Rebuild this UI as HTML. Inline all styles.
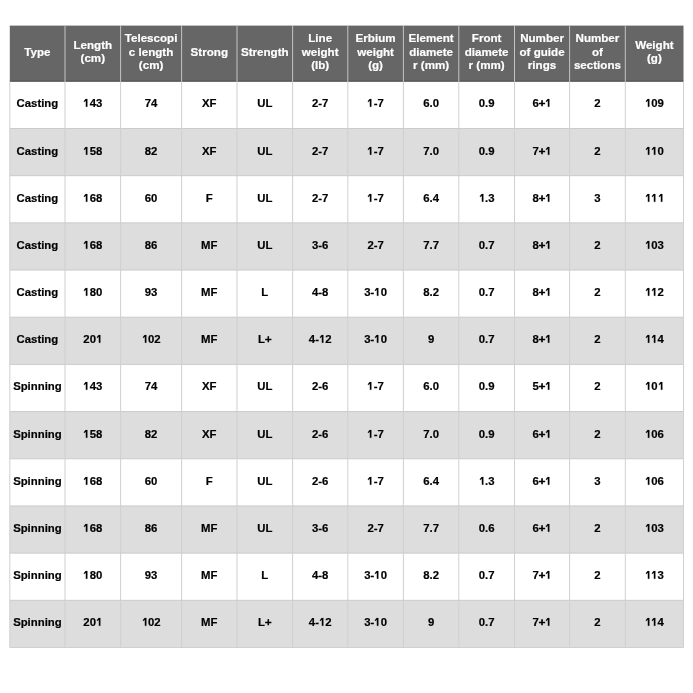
<!DOCTYPE html>
<html><head><meta charset="utf-8"><style>
html,body{margin:0;padding:0;background:#fff;width:693px;height:693px;overflow:hidden}
body{position:relative;font-family:"Liberation Sans",sans-serif;font-weight:bold}
#bg{position:absolute;left:0;top:0}
#wrap{position:absolute;left:0;top:0;width:693px;height:693px;will-change:transform}
.c{position:absolute;display:flex;align-items:center;justify-content:center;text-align:center;font-size:11.35px;line-height:14px;color:#000;-webkit-text-stroke:0.2px #000}
.h{position:absolute;display:flex;align-items:center;justify-content:center;text-align:center;font-size:11.6px;line-height:13.3px;color:#fff;-webkit-text-stroke:0.2px #fff}
.one{width:6.312px;height:7.809px;vertical-align:baseline;position:relative;top:0px;fill:#000;stroke:#000;stroke-width:30;overflow:visible}
.p{font-weight:normal;-webkit-text-stroke:0.7px #000}
</style></head><body>
<svg id="bg" width="693" height="693" viewBox="0 0 693 693">
<rect x="9.8" y="25.6" width="673.7" height="56.20" fill="#666666"/>
<rect x="9.8" y="80.40" width="673.7" height="1.1" fill="#595959"/>
<rect x="9.8" y="128.48" width="673.7" height="47.18" fill="#dddddd"/>
<rect x="9.8" y="222.85" width="673.7" height="47.18" fill="#dddddd"/>
<rect x="9.8" y="317.22" width="673.7" height="47.18" fill="#dddddd"/>
<rect x="9.8" y="411.58" width="673.7" height="47.18" fill="#dddddd"/>
<rect x="9.8" y="505.95" width="673.7" height="47.18" fill="#dddddd"/>
<rect x="9.8" y="600.32" width="673.7" height="47.18" fill="#dddddd"/>
<rect x="9.8" y="127.98" width="673.7" height="1" fill="#cbcbcb"/>
<rect x="9.8" y="175.17" width="673.7" height="1" fill="#cbcbcb"/>
<rect x="9.8" y="222.35" width="673.7" height="1" fill="#cbcbcb"/>
<rect x="9.8" y="269.53" width="673.7" height="1" fill="#cbcbcb"/>
<rect x="9.8" y="316.72" width="673.7" height="1" fill="#cbcbcb"/>
<rect x="9.8" y="363.90" width="673.7" height="1" fill="#cbcbcb"/>
<rect x="9.8" y="411.08" width="673.7" height="1" fill="#cbcbcb"/>
<rect x="9.8" y="458.27" width="673.7" height="1" fill="#cbcbcb"/>
<rect x="9.8" y="505.45" width="673.7" height="1" fill="#cbcbcb"/>
<rect x="9.8" y="552.63" width="673.7" height="1" fill="#cbcbcb"/>
<rect x="9.8" y="599.82" width="673.7" height="1" fill="#cbcbcb"/>
<rect x="9.30" y="81.30" width="1" height="566.20" fill="#d0d0d0"/>
<rect x="64.50" y="81.30" width="1" height="566.20" fill="#d0d0d0"/>
<rect x="64.50" y="25.6" width="1" height="55.90" fill="#c4c4c4"/>
<rect x="120.10" y="81.30" width="1" height="566.20" fill="#d0d0d0"/>
<rect x="120.10" y="25.6" width="1" height="55.90" fill="#c4c4c4"/>
<rect x="181.10" y="81.30" width="1" height="566.20" fill="#d0d0d0"/>
<rect x="181.10" y="25.6" width="1" height="55.90" fill="#c4c4c4"/>
<rect x="236.50" y="81.30" width="1" height="566.20" fill="#d0d0d0"/>
<rect x="236.50" y="25.6" width="1" height="55.90" fill="#c4c4c4"/>
<rect x="292.10" y="81.30" width="1" height="566.20" fill="#d0d0d0"/>
<rect x="292.10" y="25.6" width="1" height="55.90" fill="#c4c4c4"/>
<rect x="347.30" y="81.30" width="1" height="566.20" fill="#d0d0d0"/>
<rect x="347.30" y="25.6" width="1" height="55.90" fill="#c4c4c4"/>
<rect x="402.90" y="81.30" width="1" height="566.20" fill="#d0d0d0"/>
<rect x="402.90" y="25.6" width="1" height="55.90" fill="#c4c4c4"/>
<rect x="458.30" y="81.30" width="1" height="566.20" fill="#d0d0d0"/>
<rect x="458.30" y="25.6" width="1" height="55.90" fill="#c4c4c4"/>
<rect x="514.00" y="81.30" width="1" height="566.20" fill="#d0d0d0"/>
<rect x="514.00" y="25.6" width="1" height="55.90" fill="#c4c4c4"/>
<rect x="569.10" y="81.30" width="1" height="566.20" fill="#d0d0d0"/>
<rect x="569.10" y="25.6" width="1" height="55.90" fill="#c4c4c4"/>
<rect x="624.80" y="81.30" width="1" height="566.20" fill="#d0d0d0"/>
<rect x="624.80" y="25.6" width="1" height="55.90" fill="#c4c4c4"/>
<rect x="683.00" y="81.30" width="1" height="566.20" fill="#d0d0d0"/>
<rect x="9.8" y="647.00" width="673.7" height="1" fill="#d0d0d0"/>
</svg>
<div id="wrap">

<div class="h" style="left:9.8px;top:23.4px;width:55.2px;height:55.7px">Type</div>
<div class="h" style="left:65.0px;top:23.4px;width:55.6px;height:55.7px">Length<br>(cm)</div>
<div class="h" style="left:120.6px;top:23.4px;width:61.0px;height:55.7px">Telescopi<br>c length<br>(cm)</div>
<div class="h" style="left:181.6px;top:23.4px;width:55.4px;height:55.7px">Strong</div>
<div class="h" style="left:237.0px;top:23.4px;width:55.6px;height:55.7px">Strength</div>
<div class="h" style="left:292.6px;top:23.4px;width:55.2px;height:55.7px">Line<br>weight<br>(lb)</div>
<div class="h" style="left:347.8px;top:23.4px;width:55.6px;height:55.7px">Erbium<br>weight<br>(g)</div>
<div class="h" style="left:403.4px;top:23.4px;width:55.4px;height:55.7px">Element<br>diamete<br>r (mm)</div>
<div class="h" style="left:458.8px;top:23.4px;width:55.7px;height:55.7px">Front<br>diamete<br>r (mm)</div>
<div class="h" style="left:514.5px;top:23.4px;width:55.1px;height:55.7px">Number<br>of guide<br>rings</div>
<div class="h" style="left:569.6px;top:23.4px;width:55.7px;height:55.7px">Number<br>of<br>sections</div>
<div class="h" style="left:625.3px;top:23.4px;width:58.2px;height:55.7px">Weight<br>(g)</div>
<div class="c" style="left:9.8px;top:83px;width:55.2px;height:40px"><span>Casting</span></div>
<div class="c" style="left:65.0px;top:83px;width:55.6px;height:40px"><span><svg class="one" viewBox="0 0 1139 1409"><path d="M470 0H790V1409H520V330L250 560L140 390Z"/></svg>43</span></div>
<div class="c" style="left:120.6px;top:83px;width:61.0px;height:40px"><span>74</span></div>
<div class="c" style="left:181.6px;top:83px;width:55.4px;height:40px"><span>XF</span></div>
<div class="c" style="left:237.0px;top:83px;width:55.6px;height:40px"><span>UL</span></div>
<div class="c" style="left:292.6px;top:83px;width:55.2px;height:40px"><span>2-7</span></div>
<div class="c" style="left:347.8px;top:83px;width:55.6px;height:40px"><span><svg class="one" viewBox="0 0 1139 1409"><path d="M470 0H790V1409H520V330L250 560L140 390Z"/></svg>-7</span></div>
<div class="c" style="left:403.4px;top:83px;width:55.4px;height:40px"><span>6.0</span></div>
<div class="c" style="left:458.8px;top:83px;width:55.7px;height:40px"><span>0.9</span></div>
<div class="c" style="left:514.5px;top:83px;width:55.1px;height:40px"><span>6<b class="p">+</b><svg class="one" viewBox="0 0 1139 1409"><path d="M470 0H790V1409H520V330L250 560L140 390Z"/></svg></span></div>
<div class="c" style="left:569.6px;top:83px;width:55.7px;height:40px"><span>2</span></div>
<div class="c" style="left:625.3px;top:83px;width:58.2px;height:40px"><span><svg class="one" viewBox="0 0 1139 1409"><path d="M470 0H790V1409H520V330L250 560L140 390Z"/></svg>09</span></div>
<div class="c" style="left:9.8px;top:131px;width:55.2px;height:40px"><span>Casting</span></div>
<div class="c" style="left:65.0px;top:131px;width:55.6px;height:40px"><span><svg class="one" viewBox="0 0 1139 1409"><path d="M470 0H790V1409H520V330L250 560L140 390Z"/></svg>58</span></div>
<div class="c" style="left:120.6px;top:131px;width:61.0px;height:40px"><span>82</span></div>
<div class="c" style="left:181.6px;top:131px;width:55.4px;height:40px"><span>XF</span></div>
<div class="c" style="left:237.0px;top:131px;width:55.6px;height:40px"><span>UL</span></div>
<div class="c" style="left:292.6px;top:131px;width:55.2px;height:40px"><span>2-7</span></div>
<div class="c" style="left:347.8px;top:131px;width:55.6px;height:40px"><span><svg class="one" viewBox="0 0 1139 1409"><path d="M470 0H790V1409H520V330L250 560L140 390Z"/></svg>-7</span></div>
<div class="c" style="left:403.4px;top:131px;width:55.4px;height:40px"><span>7.0</span></div>
<div class="c" style="left:458.8px;top:131px;width:55.7px;height:40px"><span>0.9</span></div>
<div class="c" style="left:514.5px;top:131px;width:55.1px;height:40px"><span>7<b class="p">+</b><svg class="one" viewBox="0 0 1139 1409"><path d="M470 0H790V1409H520V330L250 560L140 390Z"/></svg></span></div>
<div class="c" style="left:569.6px;top:131px;width:55.7px;height:40px"><span>2</span></div>
<div class="c" style="left:625.3px;top:131px;width:58.2px;height:40px"><span><svg class="one" viewBox="0 0 1139 1409"><path d="M470 0H790V1409H520V330L250 560L140 390Z"/></svg><svg class="one" viewBox="0 0 1139 1409"><path d="M470 0H790V1409H520V330L250 560L140 390Z"/></svg>0</span></div>
<div class="c" style="left:9.8px;top:178px;width:55.2px;height:40px"><span>Casting</span></div>
<div class="c" style="left:65.0px;top:178px;width:55.6px;height:40px"><span><svg class="one" viewBox="0 0 1139 1409"><path d="M470 0H790V1409H520V330L250 560L140 390Z"/></svg>68</span></div>
<div class="c" style="left:120.6px;top:178px;width:61.0px;height:40px"><span>60</span></div>
<div class="c" style="left:181.6px;top:178px;width:55.4px;height:40px"><span>F</span></div>
<div class="c" style="left:237.0px;top:178px;width:55.6px;height:40px"><span>UL</span></div>
<div class="c" style="left:292.6px;top:178px;width:55.2px;height:40px"><span>2-7</span></div>
<div class="c" style="left:347.8px;top:178px;width:55.6px;height:40px"><span><svg class="one" viewBox="0 0 1139 1409"><path d="M470 0H790V1409H520V330L250 560L140 390Z"/></svg>-7</span></div>
<div class="c" style="left:403.4px;top:178px;width:55.4px;height:40px"><span>6.4</span></div>
<div class="c" style="left:458.8px;top:178px;width:55.7px;height:40px"><span><svg class="one" viewBox="0 0 1139 1409"><path d="M470 0H790V1409H520V330L250 560L140 390Z"/></svg>.3</span></div>
<div class="c" style="left:514.5px;top:178px;width:55.1px;height:40px"><span>8<b class="p">+</b><svg class="one" viewBox="0 0 1139 1409"><path d="M470 0H790V1409H520V330L250 560L140 390Z"/></svg></span></div>
<div class="c" style="left:569.6px;top:178px;width:55.7px;height:40px"><span>3</span></div>
<div class="c" style="left:625.3px;top:178px;width:58.2px;height:40px"><span><svg class="one" viewBox="0 0 1139 1409"><path d="M470 0H790V1409H520V330L250 560L140 390Z"/></svg><svg class="one" viewBox="0 0 1139 1409"><path d="M470 0H790V1409H520V330L250 560L140 390Z"/></svg><svg class="one" viewBox="0 0 1139 1409"><path d="M470 0H790V1409H520V330L250 560L140 390Z"/></svg></span></div>
<div class="c" style="left:9.8px;top:225px;width:55.2px;height:40px"><span>Casting</span></div>
<div class="c" style="left:65.0px;top:225px;width:55.6px;height:40px"><span><svg class="one" viewBox="0 0 1139 1409"><path d="M470 0H790V1409H520V330L250 560L140 390Z"/></svg>68</span></div>
<div class="c" style="left:120.6px;top:225px;width:61.0px;height:40px"><span>86</span></div>
<div class="c" style="left:181.6px;top:225px;width:55.4px;height:40px"><span>MF</span></div>
<div class="c" style="left:237.0px;top:225px;width:55.6px;height:40px"><span>UL</span></div>
<div class="c" style="left:292.6px;top:225px;width:55.2px;height:40px"><span>3-6</span></div>
<div class="c" style="left:347.8px;top:225px;width:55.6px;height:40px"><span>2-7</span></div>
<div class="c" style="left:403.4px;top:225px;width:55.4px;height:40px"><span>7.7</span></div>
<div class="c" style="left:458.8px;top:225px;width:55.7px;height:40px"><span>0.7</span></div>
<div class="c" style="left:514.5px;top:225px;width:55.1px;height:40px"><span>8<b class="p">+</b><svg class="one" viewBox="0 0 1139 1409"><path d="M470 0H790V1409H520V330L250 560L140 390Z"/></svg></span></div>
<div class="c" style="left:569.6px;top:225px;width:55.7px;height:40px"><span>2</span></div>
<div class="c" style="left:625.3px;top:225px;width:58.2px;height:40px"><span><svg class="one" viewBox="0 0 1139 1409"><path d="M470 0H790V1409H520V330L250 560L140 390Z"/></svg>03</span></div>
<div class="c" style="left:9.8px;top:272px;width:55.2px;height:40px"><span>Casting</span></div>
<div class="c" style="left:65.0px;top:272px;width:55.6px;height:40px"><span><svg class="one" viewBox="0 0 1139 1409"><path d="M470 0H790V1409H520V330L250 560L140 390Z"/></svg>80</span></div>
<div class="c" style="left:120.6px;top:272px;width:61.0px;height:40px"><span>93</span></div>
<div class="c" style="left:181.6px;top:272px;width:55.4px;height:40px"><span>MF</span></div>
<div class="c" style="left:237.0px;top:272px;width:55.6px;height:40px"><span>L</span></div>
<div class="c" style="left:292.6px;top:272px;width:55.2px;height:40px"><span>4-8</span></div>
<div class="c" style="left:347.8px;top:272px;width:55.6px;height:40px"><span>3-<svg class="one" viewBox="0 0 1139 1409"><path d="M470 0H790V1409H520V330L250 560L140 390Z"/></svg>0</span></div>
<div class="c" style="left:403.4px;top:272px;width:55.4px;height:40px"><span>8.2</span></div>
<div class="c" style="left:458.8px;top:272px;width:55.7px;height:40px"><span>0.7</span></div>
<div class="c" style="left:514.5px;top:272px;width:55.1px;height:40px"><span>8<b class="p">+</b><svg class="one" viewBox="0 0 1139 1409"><path d="M470 0H790V1409H520V330L250 560L140 390Z"/></svg></span></div>
<div class="c" style="left:569.6px;top:272px;width:55.7px;height:40px"><span>2</span></div>
<div class="c" style="left:625.3px;top:272px;width:58.2px;height:40px"><span><svg class="one" viewBox="0 0 1139 1409"><path d="M470 0H790V1409H520V330L250 560L140 390Z"/></svg><svg class="one" viewBox="0 0 1139 1409"><path d="M470 0H790V1409H520V330L250 560L140 390Z"/></svg>2</span></div>
<div class="c" style="left:9.8px;top:319px;width:55.2px;height:40px"><span>Casting</span></div>
<div class="c" style="left:65.0px;top:319px;width:55.6px;height:40px"><span>20<svg class="one" viewBox="0 0 1139 1409"><path d="M470 0H790V1409H520V330L250 560L140 390Z"/></svg></span></div>
<div class="c" style="left:120.6px;top:319px;width:61.0px;height:40px"><span><svg class="one" viewBox="0 0 1139 1409"><path d="M470 0H790V1409H520V330L250 560L140 390Z"/></svg>02</span></div>
<div class="c" style="left:181.6px;top:319px;width:55.4px;height:40px"><span>MF</span></div>
<div class="c" style="left:237.0px;top:319px;width:55.6px;height:40px"><span>L<b class="p">+</b></span></div>
<div class="c" style="left:292.6px;top:319px;width:55.2px;height:40px"><span>4-<svg class="one" viewBox="0 0 1139 1409"><path d="M470 0H790V1409H520V330L250 560L140 390Z"/></svg>2</span></div>
<div class="c" style="left:347.8px;top:319px;width:55.6px;height:40px"><span>3-<svg class="one" viewBox="0 0 1139 1409"><path d="M470 0H790V1409H520V330L250 560L140 390Z"/></svg>0</span></div>
<div class="c" style="left:403.4px;top:319px;width:55.4px;height:40px"><span>9</span></div>
<div class="c" style="left:458.8px;top:319px;width:55.7px;height:40px"><span>0.7</span></div>
<div class="c" style="left:514.5px;top:319px;width:55.1px;height:40px"><span>8<b class="p">+</b><svg class="one" viewBox="0 0 1139 1409"><path d="M470 0H790V1409H520V330L250 560L140 390Z"/></svg></span></div>
<div class="c" style="left:569.6px;top:319px;width:55.7px;height:40px"><span>2</span></div>
<div class="c" style="left:625.3px;top:319px;width:58.2px;height:40px"><span><svg class="one" viewBox="0 0 1139 1409"><path d="M470 0H790V1409H520V330L250 560L140 390Z"/></svg><svg class="one" viewBox="0 0 1139 1409"><path d="M470 0H790V1409H520V330L250 560L140 390Z"/></svg>4</span></div>
<div class="c" style="left:9.8px;top:366px;width:55.2px;height:40px"><span>Spinning</span></div>
<div class="c" style="left:65.0px;top:366px;width:55.6px;height:40px"><span><svg class="one" viewBox="0 0 1139 1409"><path d="M470 0H790V1409H520V330L250 560L140 390Z"/></svg>43</span></div>
<div class="c" style="left:120.6px;top:366px;width:61.0px;height:40px"><span>74</span></div>
<div class="c" style="left:181.6px;top:366px;width:55.4px;height:40px"><span>XF</span></div>
<div class="c" style="left:237.0px;top:366px;width:55.6px;height:40px"><span>UL</span></div>
<div class="c" style="left:292.6px;top:366px;width:55.2px;height:40px"><span>2-6</span></div>
<div class="c" style="left:347.8px;top:366px;width:55.6px;height:40px"><span><svg class="one" viewBox="0 0 1139 1409"><path d="M470 0H790V1409H520V330L250 560L140 390Z"/></svg>-7</span></div>
<div class="c" style="left:403.4px;top:366px;width:55.4px;height:40px"><span>6.0</span></div>
<div class="c" style="left:458.8px;top:366px;width:55.7px;height:40px"><span>0.9</span></div>
<div class="c" style="left:514.5px;top:366px;width:55.1px;height:40px"><span>5<b class="p">+</b><svg class="one" viewBox="0 0 1139 1409"><path d="M470 0H790V1409H520V330L250 560L140 390Z"/></svg></span></div>
<div class="c" style="left:569.6px;top:366px;width:55.7px;height:40px"><span>2</span></div>
<div class="c" style="left:625.3px;top:366px;width:58.2px;height:40px"><span><svg class="one" viewBox="0 0 1139 1409"><path d="M470 0H790V1409H520V330L250 560L140 390Z"/></svg>0<svg class="one" viewBox="0 0 1139 1409"><path d="M470 0H790V1409H520V330L250 560L140 390Z"/></svg></span></div>
<div class="c" style="left:9.8px;top:414px;width:55.2px;height:40px"><span>Spinning</span></div>
<div class="c" style="left:65.0px;top:414px;width:55.6px;height:40px"><span><svg class="one" viewBox="0 0 1139 1409"><path d="M470 0H790V1409H520V330L250 560L140 390Z"/></svg>58</span></div>
<div class="c" style="left:120.6px;top:414px;width:61.0px;height:40px"><span>82</span></div>
<div class="c" style="left:181.6px;top:414px;width:55.4px;height:40px"><span>XF</span></div>
<div class="c" style="left:237.0px;top:414px;width:55.6px;height:40px"><span>UL</span></div>
<div class="c" style="left:292.6px;top:414px;width:55.2px;height:40px"><span>2-6</span></div>
<div class="c" style="left:347.8px;top:414px;width:55.6px;height:40px"><span><svg class="one" viewBox="0 0 1139 1409"><path d="M470 0H790V1409H520V330L250 560L140 390Z"/></svg>-7</span></div>
<div class="c" style="left:403.4px;top:414px;width:55.4px;height:40px"><span>7.0</span></div>
<div class="c" style="left:458.8px;top:414px;width:55.7px;height:40px"><span>0.9</span></div>
<div class="c" style="left:514.5px;top:414px;width:55.1px;height:40px"><span>6<b class="p">+</b><svg class="one" viewBox="0 0 1139 1409"><path d="M470 0H790V1409H520V330L250 560L140 390Z"/></svg></span></div>
<div class="c" style="left:569.6px;top:414px;width:55.7px;height:40px"><span>2</span></div>
<div class="c" style="left:625.3px;top:414px;width:58.2px;height:40px"><span><svg class="one" viewBox="0 0 1139 1409"><path d="M470 0H790V1409H520V330L250 560L140 390Z"/></svg>06</span></div>
<div class="c" style="left:9.8px;top:461px;width:55.2px;height:40px"><span>Spinning</span></div>
<div class="c" style="left:65.0px;top:461px;width:55.6px;height:40px"><span><svg class="one" viewBox="0 0 1139 1409"><path d="M470 0H790V1409H520V330L250 560L140 390Z"/></svg>68</span></div>
<div class="c" style="left:120.6px;top:461px;width:61.0px;height:40px"><span>60</span></div>
<div class="c" style="left:181.6px;top:461px;width:55.4px;height:40px"><span>F</span></div>
<div class="c" style="left:237.0px;top:461px;width:55.6px;height:40px"><span>UL</span></div>
<div class="c" style="left:292.6px;top:461px;width:55.2px;height:40px"><span>2-6</span></div>
<div class="c" style="left:347.8px;top:461px;width:55.6px;height:40px"><span><svg class="one" viewBox="0 0 1139 1409"><path d="M470 0H790V1409H520V330L250 560L140 390Z"/></svg>-7</span></div>
<div class="c" style="left:403.4px;top:461px;width:55.4px;height:40px"><span>6.4</span></div>
<div class="c" style="left:458.8px;top:461px;width:55.7px;height:40px"><span><svg class="one" viewBox="0 0 1139 1409"><path d="M470 0H790V1409H520V330L250 560L140 390Z"/></svg>.3</span></div>
<div class="c" style="left:514.5px;top:461px;width:55.1px;height:40px"><span>6<b class="p">+</b><svg class="one" viewBox="0 0 1139 1409"><path d="M470 0H790V1409H520V330L250 560L140 390Z"/></svg></span></div>
<div class="c" style="left:569.6px;top:461px;width:55.7px;height:40px"><span>3</span></div>
<div class="c" style="left:625.3px;top:461px;width:58.2px;height:40px"><span><svg class="one" viewBox="0 0 1139 1409"><path d="M470 0H790V1409H520V330L250 560L140 390Z"/></svg>06</span></div>
<div class="c" style="left:9.8px;top:508px;width:55.2px;height:40px"><span>Spinning</span></div>
<div class="c" style="left:65.0px;top:508px;width:55.6px;height:40px"><span><svg class="one" viewBox="0 0 1139 1409"><path d="M470 0H790V1409H520V330L250 560L140 390Z"/></svg>68</span></div>
<div class="c" style="left:120.6px;top:508px;width:61.0px;height:40px"><span>86</span></div>
<div class="c" style="left:181.6px;top:508px;width:55.4px;height:40px"><span>MF</span></div>
<div class="c" style="left:237.0px;top:508px;width:55.6px;height:40px"><span>UL</span></div>
<div class="c" style="left:292.6px;top:508px;width:55.2px;height:40px"><span>3-6</span></div>
<div class="c" style="left:347.8px;top:508px;width:55.6px;height:40px"><span>2-7</span></div>
<div class="c" style="left:403.4px;top:508px;width:55.4px;height:40px"><span>7.7</span></div>
<div class="c" style="left:458.8px;top:508px;width:55.7px;height:40px"><span>0.6</span></div>
<div class="c" style="left:514.5px;top:508px;width:55.1px;height:40px"><span>6<b class="p">+</b><svg class="one" viewBox="0 0 1139 1409"><path d="M470 0H790V1409H520V330L250 560L140 390Z"/></svg></span></div>
<div class="c" style="left:569.6px;top:508px;width:55.7px;height:40px"><span>2</span></div>
<div class="c" style="left:625.3px;top:508px;width:58.2px;height:40px"><span><svg class="one" viewBox="0 0 1139 1409"><path d="M470 0H790V1409H520V330L250 560L140 390Z"/></svg>03</span></div>
<div class="c" style="left:9.8px;top:555px;width:55.2px;height:40px"><span>Spinning</span></div>
<div class="c" style="left:65.0px;top:555px;width:55.6px;height:40px"><span><svg class="one" viewBox="0 0 1139 1409"><path d="M470 0H790V1409H520V330L250 560L140 390Z"/></svg>80</span></div>
<div class="c" style="left:120.6px;top:555px;width:61.0px;height:40px"><span>93</span></div>
<div class="c" style="left:181.6px;top:555px;width:55.4px;height:40px"><span>MF</span></div>
<div class="c" style="left:237.0px;top:555px;width:55.6px;height:40px"><span>L</span></div>
<div class="c" style="left:292.6px;top:555px;width:55.2px;height:40px"><span>4-8</span></div>
<div class="c" style="left:347.8px;top:555px;width:55.6px;height:40px"><span>3-<svg class="one" viewBox="0 0 1139 1409"><path d="M470 0H790V1409H520V330L250 560L140 390Z"/></svg>0</span></div>
<div class="c" style="left:403.4px;top:555px;width:55.4px;height:40px"><span>8.2</span></div>
<div class="c" style="left:458.8px;top:555px;width:55.7px;height:40px"><span>0.7</span></div>
<div class="c" style="left:514.5px;top:555px;width:55.1px;height:40px"><span>7<b class="p">+</b><svg class="one" viewBox="0 0 1139 1409"><path d="M470 0H790V1409H520V330L250 560L140 390Z"/></svg></span></div>
<div class="c" style="left:569.6px;top:555px;width:55.7px;height:40px"><span>2</span></div>
<div class="c" style="left:625.3px;top:555px;width:58.2px;height:40px"><span><svg class="one" viewBox="0 0 1139 1409"><path d="M470 0H790V1409H520V330L250 560L140 390Z"/></svg><svg class="one" viewBox="0 0 1139 1409"><path d="M470 0H790V1409H520V330L250 560L140 390Z"/></svg>3</span></div>
<div class="c" style="left:9.8px;top:602px;width:55.2px;height:40px"><span>Spinning</span></div>
<div class="c" style="left:65.0px;top:602px;width:55.6px;height:40px"><span>20<svg class="one" viewBox="0 0 1139 1409"><path d="M470 0H790V1409H520V330L250 560L140 390Z"/></svg></span></div>
<div class="c" style="left:120.6px;top:602px;width:61.0px;height:40px"><span><svg class="one" viewBox="0 0 1139 1409"><path d="M470 0H790V1409H520V330L250 560L140 390Z"/></svg>02</span></div>
<div class="c" style="left:181.6px;top:602px;width:55.4px;height:40px"><span>MF</span></div>
<div class="c" style="left:237.0px;top:602px;width:55.6px;height:40px"><span>L<b class="p">+</b></span></div>
<div class="c" style="left:292.6px;top:602px;width:55.2px;height:40px"><span>4-<svg class="one" viewBox="0 0 1139 1409"><path d="M470 0H790V1409H520V330L250 560L140 390Z"/></svg>2</span></div>
<div class="c" style="left:347.8px;top:602px;width:55.6px;height:40px"><span>3-<svg class="one" viewBox="0 0 1139 1409"><path d="M470 0H790V1409H520V330L250 560L140 390Z"/></svg>0</span></div>
<div class="c" style="left:403.4px;top:602px;width:55.4px;height:40px"><span>9</span></div>
<div class="c" style="left:458.8px;top:602px;width:55.7px;height:40px"><span>0.7</span></div>
<div class="c" style="left:514.5px;top:602px;width:55.1px;height:40px"><span>7<b class="p">+</b><svg class="one" viewBox="0 0 1139 1409"><path d="M470 0H790V1409H520V330L250 560L140 390Z"/></svg></span></div>
<div class="c" style="left:569.6px;top:602px;width:55.7px;height:40px"><span>2</span></div>
<div class="c" style="left:625.3px;top:602px;width:58.2px;height:40px"><span><svg class="one" viewBox="0 0 1139 1409"><path d="M470 0H790V1409H520V330L250 560L140 390Z"/></svg><svg class="one" viewBox="0 0 1139 1409"><path d="M470 0H790V1409H520V330L250 560L140 390Z"/></svg>4</span></div>
</div></body></html>
